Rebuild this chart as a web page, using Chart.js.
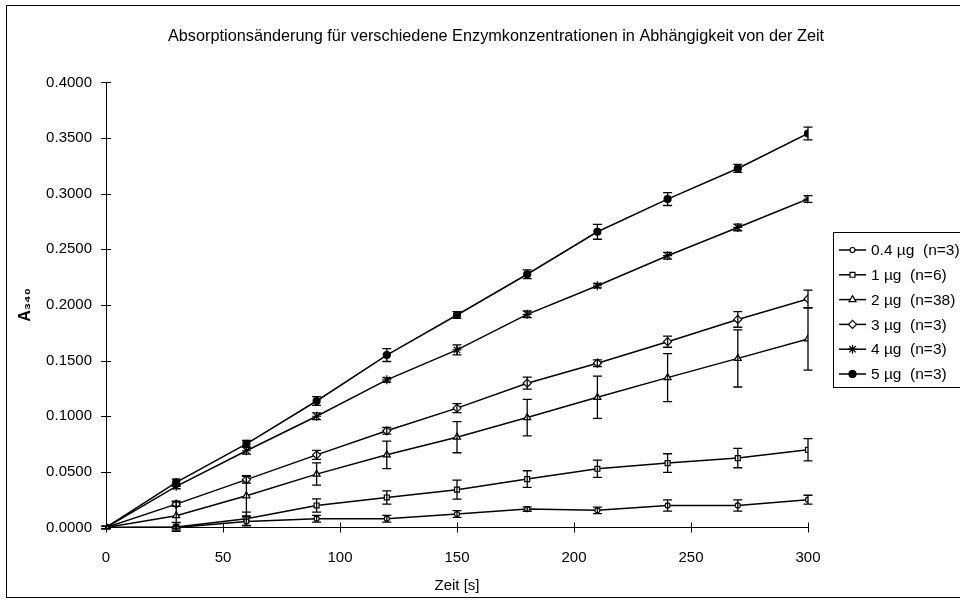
<!DOCTYPE html>
<html>
<head>
<meta charset="utf-8">
<script src="https://cdn.jsdelivr.net/npm/chart.js@4"></script>
<style>
  html, body { margin: 0; padding: 0; background: #fff; overflow: hidden; }
  canvas { display: block; }
</style>
</head>
<body>
<canvas id="myChart" width="992" height="601"></canvas>
<script>
// data (time in s, absorption)
const times = [0, 30, 60, 90, 120, 150, 180, 210, 240, 270, 300];
const labels = ["0.4 µg  (n=3)", "1 µg  (n=6)", "2 µg  (n=38)", "3 µg  (n=3)", "4 µg  (n=3)", "5 µg  (n=3)"];

const mean04 = [0, 0.0000, 0.0055, 0.0079, 0.0079, 0.0121, 0.0166, 0.0154, 0.0198, 0.0198, 0.0250];
const err04  = [0.001, 0.001, 0.004, 0.003, 0.003, 0.003, 0.002, 0.003, 0.005, 0.005, 0.004];
const mean1  = [0, 0.0005, 0.0079, 0.0198, 0.0270, 0.0340, 0.0435, 0.0528, 0.0579, 0.0624, 0.0698];
const err1   = [0.001, 0.004, 0.006, 0.006, 0.006, 0.0085, 0.0075, 0.0078, 0.0084, 0.0087, 0.0100];
const mean2  = [0, 0.0106, 0.0285, 0.0480, 0.0653, 0.0812, 0.0988, 0.1170, 0.1347, 0.1520, 0.1695];
const err2   = [0.001, 0.013, 0.018, 0.010, 0.0124, 0.014, 0.0164, 0.019, 0.0215, 0.0257, 0.028];
const mean3  = [0, 0.0210, 0.0430, 0.0653, 0.0869, 0.1073, 0.1297, 0.1477, 0.1670, 0.1870, 0.2054];
const err3   = [0.001, 0.002, 0.003, 0.004, 0.003, 0.004, 0.0054, 0.003, 0.005, 0.007, 0.008];
const mean4  = [0, 0.0370, 0.0690, 0.1000, 0.1327, 0.1596, 0.1916, 0.2173, 0.2443, 0.2697, 0.2952];
const err4   = [0.001, 0.002, 0.003, 0.003, 0.002, 0.0045, 0.003, 0.002, 0.003, 0.003, 0.003];
const mean5  = [0, 0.0405, 0.0752, 0.1137, 0.1550, 0.1910, 0.2276, 0.2658, 0.2952, 0.3227, 0.3541];
const err5   = [0.001, 0.003, 0.003, 0.004, 0.0058, 0.003, 0.004, 0.0067, 0.0058, 0.0036, 0.0057];

const means = [mean04, mean1, mean2, mean3, mean4, mean5];
const errs = [err04, err1, err2, err3, err4, err5];
const markers = ['circle', 'rect', 'triangle', 'rectRot', 'star', 'circle'];
const markerSize = [2.5, 3.5, 4, 4, 4.5, 3.5];
const markerFill = ['#fff', '#fff', '#fff', '#fff', '#000', '#000'];

const FONT = "'Liberation Sans', Arial, sans-serif";
Chart.defaults.font.family = FONT;
Chart.defaults.color = '#000';

const datasets = means.map((m, i) => ({
    label: labels[i],
    data: times.map((t, j) => ({ x: t, y: m[j] })),
    borderColor: '#000',
    borderWidth: 1.5,
    backgroundColor: markerFill[i],
    pointStyle: markers[i],
    pointRadius: markerSize[i],
    pointBorderColor: '#000',
    pointBorderWidth: 1.2,
    pointBackgroundColor: markerFill[i],
    tension: 0,
    fill: false
}));

// error bars, cross ticks, frame and legend
const extras = {
    id: 'extras',
    afterDatasetsDraw(chart) {
        const ctx = chart.ctx;
        const xs = chart.scales.x, ys = chart.scales.y;
        ctx.save();
        ctx.strokeStyle = '#000';
        ctx.lineWidth = 1.3;
        means.forEach((m, i) => {
            times.forEach((t, j) => {
                const px = xs.getPixelForValue(t);
                const top = ys.getPixelForValue(m[j] + errs[i][j]);
                const bot = ys.getPixelForValue(m[j] - errs[i][j]);
                ctx.beginPath();
                ctx.moveTo(px, top); ctx.lineTo(px, bot);
                ctx.moveTo(px - 4.5, top); ctx.lineTo(px + 4.5, top);
                ctx.moveTo(px - 4.5, bot); ctx.lineTo(px + 4.5, bot);
                ctx.stroke();
            });
        });
        ctx.restore();
    },
    afterDraw(chart) {
        const ctx = chart.ctx;
        const xs = chart.scales.x, ys = chart.scales.y;
        const area = chart.chartArea;
        ctx.save();
        ctx.strokeStyle = '#000';
        ctx.lineWidth = 1;
        // cross tick marks
        ys.ticks.forEach(tk => {
            const py = Math.round(ys.getPixelForValue(tk.value)) + 0.5;
            ctx.beginPath();
            ctx.moveTo(area.left - 5, py); ctx.lineTo(area.left + 5, py);
            ctx.stroke();
        });
        xs.ticks.forEach(tk => {
            const px = Math.round(xs.getPixelForValue(tk.value)) + 0.5;
            ctx.beginPath();
            ctx.moveTo(px, area.bottom - 5); ctx.lineTo(px, area.bottom + 5);
            ctx.stroke();
        });
        // outer frame
        ctx.strokeRect(6.5, 5.5, 980, 592);

        // legend
        const lx = 833.5, ly = 232.5;
        ctx.strokeRect(lx, ly, 142, 155);
        ctx.font = '15.5px ' + FONT;
        ctx.fillStyle = '#000';
        ctx.textBaseline = 'middle';
        ctx.textAlign = 'left';
        labels.forEach((lab, i) => {
            const y = 250 + i * 24.8;
            ctx.lineWidth = 1.5;
            ctx.beginPath();
            ctx.moveTo(839, y); ctx.lineTo(866, y);
            ctx.stroke();
            ctx.lineWidth = 1.2;
            ctx.fillStyle = markerFill[i];
            Chart.helpers.drawPoint(ctx, {
                pointStyle: markers[i], radius: markerSize[i], rotation: 0, borderWidth: 1.2
            }, 852.5, y);
            ctx.fillStyle = '#000';
            ctx.fillText(lab, 871, y + 1);
        });
        ctx.restore();
    }
};

const myChart = new Chart(document.getElementById('myChart'), {
    type: 'line',
    data: { datasets: datasets },
    options: {
        responsive: false,
        animation: false,
        layout: { padding: { left: 0, right: 0, top: 0, bottom: 0 } },
        plugins: {
            legend: { display: false },
            tooltip: { enabled: false },
            title: {
                display: true,
                text: 'Absorptionsänderung für verschiedene Enzymkonzentrationen in Abhängigkeit von der Zeit',
                font: { size: 16.3, weight: 'normal', family: FONT },
                color: '#000',
                padding: { top: 27.2, bottom: 35.7 }
            }
        },
        scales: {
            x: {
                type: 'linear',
                min: 0, max: 300,
                ticks: { stepSize: 50, font: { size: 15 }, color: '#000', padding: 21, maxRotation: 0 },
                grid: { display: false, drawTicks: false },
                border: { display: true, color: '#000', width: 1 },
                title: { display: true, text: 'Zeit [s]', font: { size: 15 }, color: '#000', padding: { top: 0, bottom: 6 } },
                afterFit(scale) { scale.height = 73.5; }
            },
            y: {
                min: 0, max: 0.4,
                ticks: { stepSize: 0.05, font: { size: 15 }, color: '#000', padding: 14,
                    callback: v => v.toFixed(4) },
                grid: { display: false, drawTicks: false },
                border: { display: true, color: '#000', width: 1 },
                title: { display: true, text: 'A₃₄₀', font: { size: 16, weight: 'bold' }, color: '#000', padding: { top: 16, bottom: 0 } },
                afterFit(scale) { scale.width = 106; }
            },
            spare: {
                type: 'linear',
                position: 'right',
                display: true,
                ticks: { display: false },
                grid: { display: false, drawTicks: false },
                border: { display: false },
                afterFit(scale) { scale.width = 184; }
            }
        }
    },
    plugins: [extras]
});
</script>
</body>
</html>
